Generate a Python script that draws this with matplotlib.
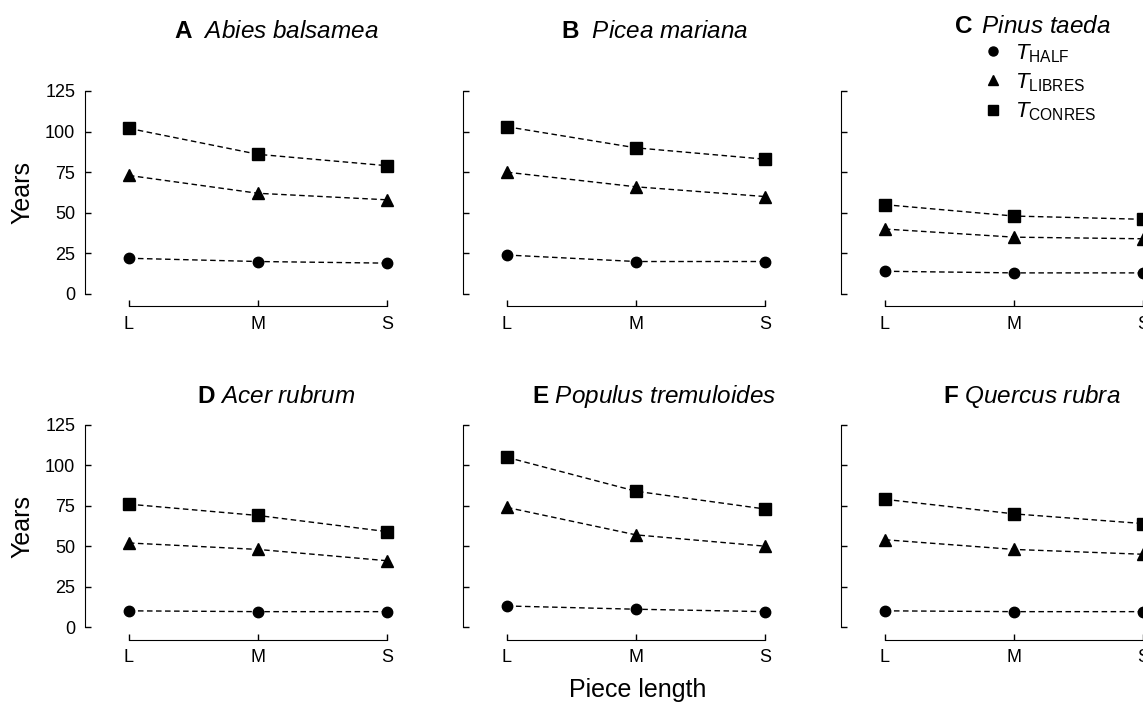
import matplotlib
matplotlib.use("Agg")
import matplotlib.pyplot as plt
from matplotlib.lines import Line2D
import matplotlib.transforms as mtransforms

plt.rcParams['font.family'] = ['Liberation Sans', 'DejaVu Sans']
plt.rcParams['mathtext.fontset'] = 'custom'
plt.rcParams['mathtext.rm'] = 'Liberation Sans'
plt.rcParams['mathtext.it'] = 'Liberation Sans:italic'
plt.rcParams['mathtext.bf'] = 'Liberation Sans:bold'

# piece length classes
lengths = ['L', 'M', 'S']

# panel letters and species
letters = ['A', 'B', 'C', 'D', 'E', 'F']
species = ['Abies balsamea', 'Picea mariana', 'Pinus taeda',
           'Acer rubrum', 'Populus tremuloides', 'Quercus rubra']

# years per panel (L, M, S)
t_half = [[22, 20, 19], [24, 20, 20], [14, 13, 13],
          [10, 9.5, 9.5], [13, 11, 9.5], [10, 9.5, 9.5]]
t_libres = [[73, 62, 58], [75, 66, 60], [40, 35, 34],
            [52, 48, 41], [74, 57, 50], [54, 48, 45]]
t_conres = [[102, 86, 79], [103, 90, 83], [55, 48, 46],
            [76, 69, 59], [105, 84, 73], [79, 70, 64]]

yticks = [0, 25, 50, 75, 100, 125]

W, H = 1143, 705
fig = plt.figure(figsize=(W / 100, H / 100), dpi=100)

lefts = [85, 463, 841]
bottoms = [294, 627]   # pixel row of y = 0
heights = [203, 202]
width = 310
gaps = [r'\ \ ', r'\ \ ', r'\ \,', r'\ ', r'\ ', r'\ ']

ls = (0, (4, 2.5))
for i in range(6):
    r, c = divmod(i, 3)
    ax = fig.add_axes([lefts[c] / W, 1 - bottoms[r] / H, width / W, heights[r] / H])
    x = range(len(lengths))
    ax.plot(x, t_half[i], ls=ls, color='black', lw=1, marker='o', ms=7.5, clip_on=False)
    ax.plot(x, t_libres[i], ls=ls, color='black', lw=1, marker='^', ms=9, clip_on=False)
    ax.plot(x, t_conres[i], ls=ls, color='black', lw=1, marker='s', ms=8.5, clip_on=False)

    ax.set_xlim(-0.34, 2.06)
    ax.set_ylim(0, 125)
    for s in ['top', 'right']:
        ax.spines[s].set_visible(False)
    ax.spines['bottom'].set_position(('outward', 9))
    ax.spines['bottom'].set_bounds(0, 2)
    ax.spines['left'].set_bounds(0, 125)
    ax.set_xticks(list(x))
    ax.set_xticklabels(lengths)
    ax.set_yticks(yticks)
    ax.tick_params(direction='in', length=4, width=1, labelsize=13, pad=7)
    if c != 0:
        ax.set_yticklabels([])

    tr = mtransforms.blended_transform_factory(ax.transData, ax.transAxes)
    ty = [1.26, 1.11][r] if i != 2 else 1.285
    title = r'$\mathbf{%s}%s\mathit{%s}$' % (letters[i], gaps[i], species[i].replace(' ', r'\ '))
    ax.text(1.14, ty, title, transform=tr, ha='center', va='baseline', fontsize=17.5)

handles = [Line2D([], [], ls='none', marker='o', color='black', ms=6.5),
           Line2D([], [], ls='none', marker='^', color='black', ms=7.5),
           Line2D([], [], ls='none', marker='s', color='black', ms=6.5)]
labels = [r'$T_{\mathrm{HALF}}$', r'$T_{\mathrm{LIBRES}}$', r'$T_{\mathrm{CONRES}}$']
fig.legend(handles, labels, loc='upper left', bbox_to_anchor=(982 / W, 1 - 42 / H),
           frameon=False, fontsize=16, handlelength=1.0, handletextpad=0.5,
           labelspacing=0.3, borderpad=0, borderaxespad=0)

for yc in [192, 526]:
    fig.text(22 / W, 1 - yc / H, 'Years', rotation=90, ha='center', va='center', fontsize=18)
fig.text(638 / W, 1 - 690 / H, 'Piece length', ha='center', va='center', fontsize=18)

fig.savefig('out.png', dpi=100)
